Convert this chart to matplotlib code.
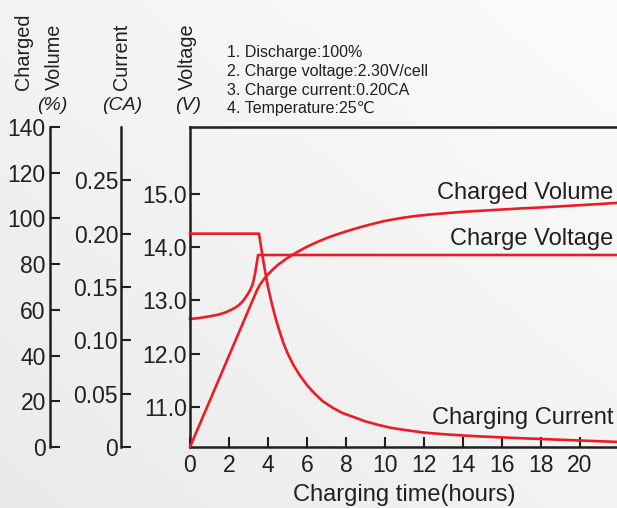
import numpy as np
import matplotlib
matplotlib.use('Agg')
import matplotlib.pyplot as plt

# ---------------- data ----------------
x_ticks = [0, 2, 4, 6, 8, 10, 12, 14, 16, 18, 20]
volt_ticks = [11.0, 12.0, 13.0, 14.0, 15.0]
cur_ticks = [0, 0.05, 0.10, 0.15, 0.20, 0.25]
cur_tick_labels = ['0', '0.05', '0.10', '0.15', '0.20', '0.25']
vol_ticks = [0, 20, 40, 60, 80, 100, 120, 140]

# Charging current (CA) vs hours
cur_t = [0, 3.54, 3.65, 3.8, 4.0, 4.2, 4.4, 4.6, 4.8, 5.0, 5.3, 5.6, 6.0,
         6.4, 6.8, 7.3, 7.8, 8.4, 9.0, 9.6, 10.3, 11.0, 12.0, 13.0, 14.0,
         15.0, 16.0, 17.0, 18.0, 19.0, 20.0, 21.0, 21.9]
cur_v = [0.200, 0.200, 0.187, 0.170, 0.150, 0.134, 0.120, 0.108, 0.097,
         0.088, 0.077, 0.068, 0.058, 0.050, 0.043, 0.037, 0.032, 0.028,
         0.024, 0.021, 0.018, 0.016, 0.0135, 0.0120, 0.0108, 0.0098, 0.0090,
         0.0082, 0.0075, 0.0068, 0.0061, 0.0054, 0.0048]

# Charged volume (%) vs hours
vol_t = [0, 3.44, 3.6, 3.8, 4.0, 4.25, 4.5, 4.75, 5.0, 5.3, 5.6, 6.0, 6.5,
         7.0, 7.5, 8.0, 8.5, 9.0, 9.5, 10.0, 10.5, 11.0, 11.6, 12.3, 13.0,
         14.0, 15.0, 16.0, 17.0, 18.0, 19.0, 20.0, 21.0, 21.9]
vol_v = [0, 68.7, 71.2, 73.5, 75.5, 77.7, 79.6, 81.2, 82.7, 84.3, 85.8, 87.6,
         89.6, 91.4, 92.9, 94.3, 95.6, 96.8, 97.9, 98.9, 99.7, 100.4, 101.1,
         101.7, 102.2, 102.9, 103.4, 103.9, 104.4, 104.8, 105.3, 105.8, 106.3,
         106.8]

# Charge voltage (V) vs hours
volt_t = [0, 0.5, 1.0, 1.44, 1.8, 2.1, 2.31, 2.5, 2.65, 2.82, 2.95, 3.08,
          3.18, 3.26, 3.33, 3.40, 3.46, 3.49, 21.9]
volt_v = [12.65, 12.67, 12.70, 12.73, 12.77, 12.82, 12.86, 12.91, 12.96,
          13.04, 13.11, 13.19, 13.27, 13.37, 13.49, 13.64, 13.78, 13.85, 13.85]

notes = ['1. Discharge:100%', '2. Charge voltage:2.30V/cell',
         '3. Charge current:0.20CA', '4. Temperature:25\u2103']

# ---------------- styling ----------------
FONT = ['Liberation Sans', 'DejaVu Sans']
plt.rcParams['font.family'] = FONT
RED = '#ec1c24'
DARK = '#231f20'
W, H = 617, 508

fig = plt.figure(figsize=(W / 100, H / 100), dpi=100)

# soft diagonal gradient background
bg = fig.add_axes([0, 0, 1, 1], zorder=-10)
bg.axis('off')
yy, xx = np.mgrid[0:1:200j, 0:1:200j]
g = (xx + (1 - yy)) / 2.0
val = (234 + 18 * g) / 255.0
bg.imshow(np.dstack([val, val, val]), aspect='auto', extent=[0, 1, 0, 1])

def fx(px):
    return px / W

def fy(py):
    return 1 - py / H

left_px, right_px, top_px, bot_px = 190, 617, 127, 447
ax = fig.add_axes([fx(left_px), fy(bot_px), (right_px - left_px) / W,
                   (bot_px - top_px) / H])
ax.patch.set_alpha(0)
xmax = (right_px - left_px) / 19.5
ax.set_xlim(0, xmax)
ax.set_ylim(10.25, 16.25)
ax.set_xticks(x_ticks)
ax.set_xticklabels([str(v) for v in x_ticks])
ax.set_yticks(volt_ticks)
ax.set_yticklabels(['%.1f' % v for v in volt_ticks])
for s in ['left', 'top', 'bottom']:
    ax.spines[s].set_linewidth(1.8)
    ax.spines[s].set_color(DARK)
ax.spines['right'].set_visible(False)
ax.tick_params(axis='both', direction='in', length=7, width=1.5, colors=DARK,
               labelsize=16.5)
ax.tick_params(axis='y', pad=2)
ax.tick_params(axis='x', pad=5)

axis_w = right_px - left_px

def side_axis(spine_px, ylim, ticks, labels, pad):
    a = ax.twinx()
    a.set_ylim(*ylim)
    for s in ['right', 'top', 'bottom']:
        a.spines[s].set_visible(False)
    a.spines['left'].set_visible(True)
    a.spines['left'].set_position(('axes', (spine_px - left_px) / axis_w))
    a.spines['left'].set_linewidth(1.8)
    a.spines['left'].set_color(DARK)
    a.yaxis.tick_left()
    a.set_yticks(ticks)
    a.set_yticklabels(labels)
    a.tick_params(axis='y', direction='in', length=7, width=1.5, colors=DARK,
                  labelsize=16.5, pad=pad)
    return a

axc = side_axis(121, (0, 0.30), cur_ticks, cur_tick_labels, 2)
axv = side_axis(50, (0, 140), vol_ticks, [str(v) for v in vol_ticks], 3)

lw = 1.9
ax.plot(volt_t, volt_v, color=RED, lw=lw, clip_on=False, solid_joinstyle='round')
axc.plot(cur_t, cur_v, color=RED, lw=lw, clip_on=False, solid_joinstyle='round')
axv.plot(vol_t, vol_v, color=RED, lw=lw, clip_on=False, solid_joinstyle='round')

# curve labels
fig.text(fx(613), fy(193), 'Charged Volume', ha='right', va='center',
         fontsize=17, color=DARK)
fig.text(fx(613), fy(239), 'Charge Voltage', ha='right', va='center',
         fontsize=17, color=DARK)
fig.text(fx(613), fy(418), 'Charging Current', ha='right', va='center',
         fontsize=17, color=DARK)

# x axis label
fig.text(fx(404), fy(495), 'Charging time(hours)', ha='center', va='center',
         fontsize=17, color=DARK)

# axis titles (top-left)
for x_px, word in [(24, 'Charged'), (54, 'Volume'), (122, 'Current'), (187, 'Voltage')]:
    fig.text(fx(x_px), fy(90), word, rotation=90, ha='center', va='bottom',
             fontsize=14.3, color=DARK)
for x_px, unit in [(52, '(%)'), (122, '(CA)'), (188, '(V)')]:
    fig.text(fx(x_px), fy(106), unit, ha='center', va='center', fontsize=14,
             style='italic', color=DARK)

# notes
for i, t in enumerate(notes):
    fig.text(fx(227), fy(53 + i * 18.5), t, ha='left', va='center',
             fontsize=11.5, color=DARK, family=FONT)

fig.savefig('out.png', dpi=100)
